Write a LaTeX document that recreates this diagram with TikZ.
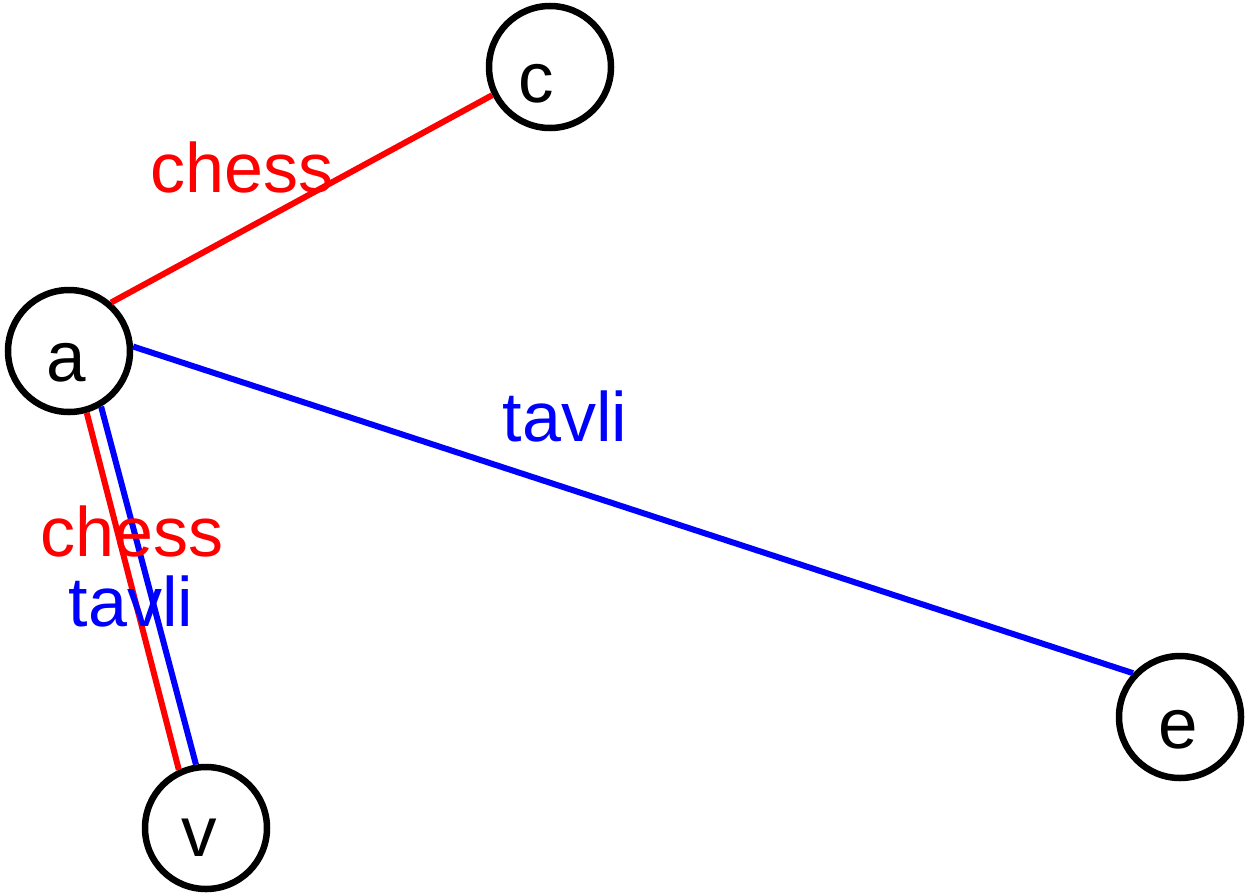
\documentclass[tikz,border=0pt]{standalone}
\usepackage{fontspec}
\setmainfont{Liberation Sans}
\begin{document}
\begin{tikzpicture}[x=1pt,y=-1pt,
  vert/.style={circle,draw=black,line width=6.5pt,minimum size=122pt,inner sep=0pt},
  vtext/.style={anchor=base,inner sep=0pt,font=\fontsize{71}{80}\selectfont},
  elabel/.style={anchor=base,inner sep=0pt,font=\fontsize{70}{80}\selectfont},
  redge/.style={draw=red,line width=6pt},
  bedge/.style={draw=blue,line width=6pt}]
\useasboundingbox (0,0) rectangle (1247,894);
\node[vert] (c) at (550,67) {};
\node[vert] (a) at (69,351) {};
\node[vert] (e) at (1180,717) {};
\node[vert] (v) at (206,828) {};
\node[vtext] (ct) at (536,102) {c};
\node[vtext] (at) at (66,381) {a};
\node[vtext] (et) at (1178,748) {e};
\node[vtext] (vt) at (199,856) {v};
\draw[redge] (a.49.5) -- (c.206);
\draw[bedge] (a.4.2) -- (e.137.8);
\draw[redge] (a.-74.9) -- (v.115.8);
\draw[bedge] (a.-60.5) -- (v.99.2);
\node[elabel,text=red] (l1) at (242,192) {chess};
\node[elabel,text=blue] (l2) at (565,441) {tavli};
\node[elabel,text=red] (l3) at (132,556) {chess};
\node[elabel,text=blue] (l4) at (131,626) {tavli};
\end{tikzpicture}
\end{document}
